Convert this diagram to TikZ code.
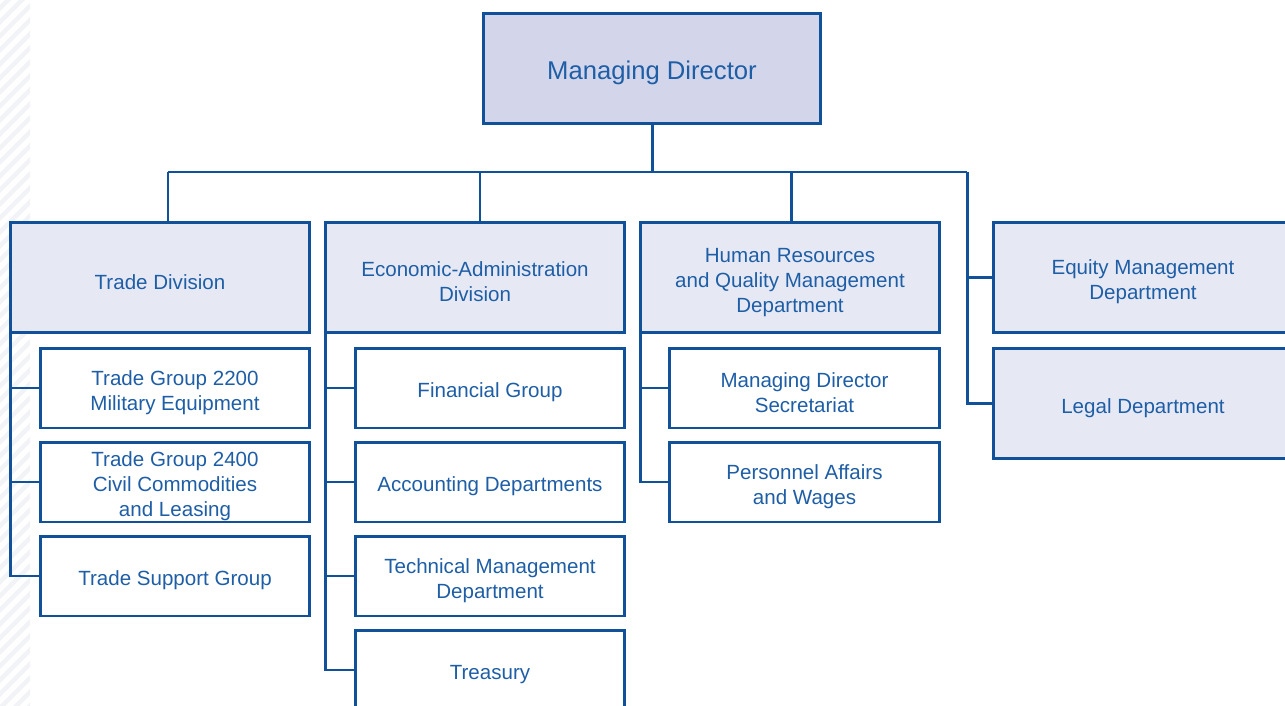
\documentclass[tikz,border=0pt]{standalone}
\usepackage{fontspec}
\setmainfont{Liberation Sans}
\definecolor{bord}{HTML}{11519A}
\definecolor{txt}{HTML}{1E5EA6}
\definecolor{mdfill}{HTML}{D3D6EA}
\definecolor{lvfill}{HTML}{E6E9F4}
\definecolor{stripe}{HTML}{F1F3F7}
\newcommand\mystrut{\rule{0pt}{13.4pt}}
\newcommand\mybigstrut{\rule{0pt}{15.6pt}}
\begin{document}
\begin{tikzpicture}[x=0.02cm,y=-0.02cm,
  box/.style={draw=bord,line width=1.7pt,text=txt,align=center,inner sep=0pt,outer sep=0pt,
    font=\fontsize{11.7pt}{14.2pt}\selectfont},
  topbox/.style={box,fill=mdfill,minimum width=6.76cm,minimum height=2.22cm,
    font=\fontsize{14.6pt}{17pt}\selectfont},
  lvbox/.style={box,fill=lvfill,minimum width=6cm,minimum height=2.22cm},
  subbox/.style={box,fill=white,minimum width=5.4cm,minimum height=1.6cm},
  link/.style={draw=bord,line width=1.7pt}]
\useasboundingbox (0,0) rectangle (1285,706);
\clip (0,0) rectangle (1285,706);
% faint background stripes at the left edge
\begin{scope}
\clip (0,0) rectangle (30,706);
\foreach \k in {0,14,...,760}{
  \draw[stripe,line width=2.5pt] (-20,\k) -- (40,\k-60);
}
\end{scope}
% connectors (drawn first, boxes on top)
\coordinate (sTD) at (168,172);
\coordinate (sEA) at (480,172);
\coordinate (sHR) at (791,172);
\coordinate (sR) at (967,172);
% nodes
\node[topbox] (md) at (652,68.5) {\mybigstrut Managing Director};
\node[lvbox] (td) at (160,277.5) {\mystrut Trade Division};
\node[lvbox] (ea) at (475,277.5) {\mystrut Economic-Administration\\Division};
\node[lvbox] (hr) at (790,277.5) {\mystrut Human Resources\\and Quality Management\\Department};
\node[lvbox] (eq) at (1143,277.5) {\mystrut Equity Management\\Department};
\node[lvbox] (lg) at (1143,403.5) {\mystrut Legal Department};
\node[subbox] (t1) at (175,388) {\mystrut Trade Group 2200\\Military Equipment};
\node[subbox] (t2) at (175,482) {\mystrut Trade Group 2400\\Civil Commodities\\and Leasing};
\node[subbox] (t3) at (175,576) {\mystrut Trade Support Group};
\node[subbox] (e1) at (490,388) {\mystrut Financial Group};
\node[subbox] (e2) at (490,482) {\mystrut Accounting Departments};
\node[subbox] (e3) at (490,576) {\mystrut Technical Management\\Department};
\node[subbox] (e4) at (490,670) {\mystrut Treasury};
\node[subbox] (h1) at (804.5,388) {\mystrut Managing Director\\Secretariat};
\node[subbox] (h2) at (804.5,482) {\mystrut Personnel Affairs\\and Wages};
% bus
\draw[link] (md.south) -- (md.south |- sTD);
\draw[link] (sTD) -- (sR);
\draw[link] (sTD) -- (sTD |- td.north);
\draw[link] (sEA) -- (sEA |- ea.north);
\draw[link] (sHR) -- (sHR |- hr.north);
\draw[link] (sR) |- (lg.west);
\draw[link] (sR |- eq.west) -- (eq.west);
% trade spine
\draw[link] (td.south west) |- (t3.west);
\draw[link] (td.south west |- t1.west) -- (t1.west);
\draw[link] (td.south west |- t2.west) -- (t2.west);
% econ spine
\draw[link] (ea.south west) |- (e4.west);
\draw[link] (ea.south west |- e1.west) -- (e1.west);
\draw[link] (ea.south west |- e2.west) -- (e2.west);
\draw[link] (ea.south west |- e3.west) -- (e3.west);
% hr spine
\draw[link] (hr.south west) |- (h2.west);
\draw[link] (hr.south west |- h1.west) -- (h1.west);
\end{tikzpicture}
\end{document}
